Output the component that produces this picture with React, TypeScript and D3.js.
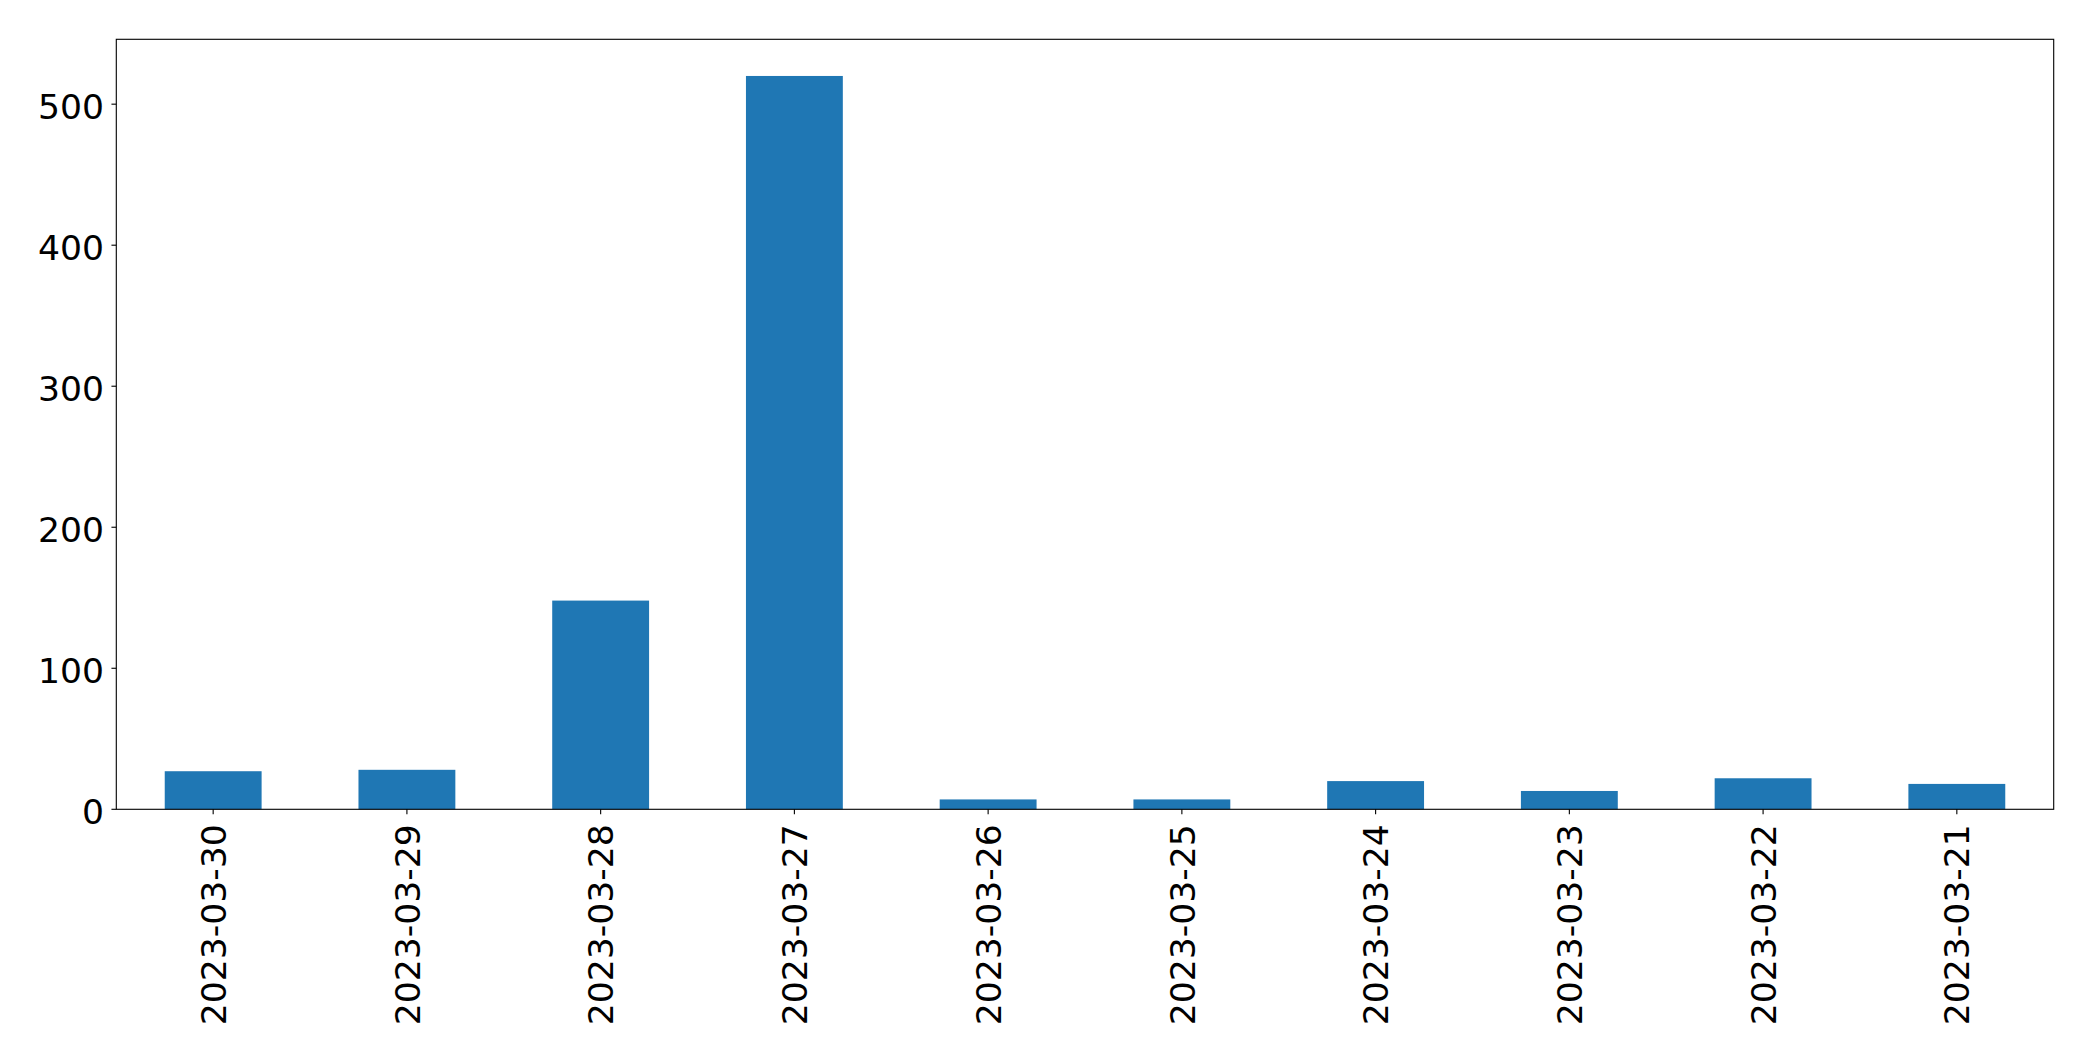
import React from "react";
import * as d3 from "d3";

const categories = [
  "2023-03-30",
  "2023-03-29",
  "2023-03-28",
  "2023-03-27",
  "2023-03-26",
  "2023-03-25",
  "2023-03-24",
  "2023-03-23",
  "2023-03-22",
  "2023-03-21",
];
const values = [27, 28, 148, 520, 7, 7, 20, 13, 22, 18];
const yTicks = [0, 100, 200, 300, 400, 500];

const W = 2093;
const H = 1061;
const left = 116.3;
const right = 2053.7;
const top = 39.3;
const bottom = 809.3;
const FONT = 34.6;
const tickLen = 4.86;

export default function App() {
  const x = d3
    .scaleBand<string>()
    .domain(categories)
    .range([left, right])
    .paddingInner(0.5)
    .paddingOuter(0.25);
  const yMax = (d3.max(values) as number) * 1.05;
  const y = d3.scaleLinear().domain([0, yMax]).range([bottom, top]);
  const bw = x.bandwidth();

  return (
    <svg
      width={W}
      height={H}
      style={{ position: "absolute", left: 0, top: 0, background: "#fff" }}
      fontFamily="DejaVu Sans"
    >
      <rect x={0} y={0} width={W} height={H} fill="#fff" />
      {categories.map((c, i) => (
        <rect
          key={c}
          x={x(c)}
          y={y(values[i])}
          width={bw}
          height={y(0) - y(values[i])}
          fill="#1f77b4"
        />
      ))}
      <rect
        x={left}
        y={top}
        width={right - left}
        height={bottom - top}
        fill="none"
        stroke="#000"
        strokeWidth={1.11}
      />
      {yTicks.map((t) => (
        <g key={t}>
          <line
            x1={left - tickLen}
            x2={left}
            y1={y(t)}
            y2={y(t)}
            stroke="#000"
            strokeWidth={1.11}
          />
          <text
            x={left - tickLen - 7.5}
            y={y(t) + 14.8}
            textAnchor="end"
            fontSize={FONT}
            fill="#000"
          >
            {t}
          </text>
        </g>
      ))}
      {categories.map((c) => {
        const cx = (x(c) as number) + bw / 2;
        return (
          <g key={c}>
            <line
              x1={cx}
              x2={cx}
              y1={bottom}
              y2={bottom + tickLen}
              stroke="#000"
              strokeWidth={1.11}
            />
            <text
              transform={`translate(${cx},${bottom + 15}) rotate(-90)`}
              textAnchor="end"
              dy="0.365em"
              fontSize={FONT}
              fill="#000"
            >
              {c}
            </text>
          </g>
        );
      })}
    </svg>
  );
}
